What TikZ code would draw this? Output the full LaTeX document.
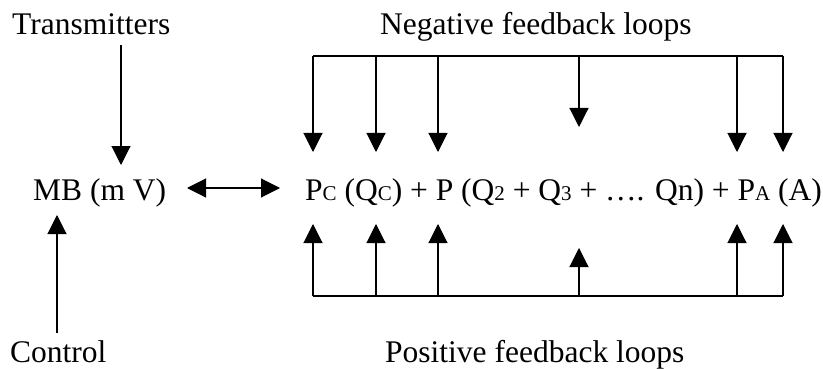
\documentclass[tikz,border=0pt]{standalone}
\usepackage{fontspec}
\setmainfont{Liberation Serif}
\usetikzlibrary{arrows.meta}
\newcommand{\lowcap}[1]{{\fontsize{21}{24}\selectfont #1}}

\begin{document}
\begin{tikzpicture}[x=1pt, y=-1pt, >={Triangle[width=19pt,length=19pt]},
    label/.style={anchor=base west, inner sep=0pt, font=\fontsize{31.5}{36}\selectfont},
    arrow/.style={->, line width=1.1pt},
    biarrow/.style={<->, line width=1.1pt},
    bar/.style={line width=1.1pt}]

\useasboundingbox (0,0) rectangle (823,369);

\node [label] (trans) at (12,35) {Transmitters};
\node [label] (mb) at (33,200) {MB (m V)};
\node [label] (ctrl) at (10,362) {Control};
\node [label] (neg) at (380,35) {Negative feedback loops};
\node [label] (pos) at (385,362) {Positive feedback loops};
\node [label] (eq) at (305,200) {P\lowcap{C} (Q\lowcap{C}) + P (Q\lowcap{2} + Q\lowcap{3} + …. Qn) + P\lowcap{A} (A)};

\coordinate (trans-out) at (121,45);
\coordinate (mb-top) at (121,165);
\coordinate (ctrl-out) at (57,333);
\coordinate (mb-bot) at (57,215);
\coordinate (mb-link) at (187,188);
\coordinate (eq-link) at (280,188);

\draw [arrow] (trans-out) -- (mb-top);
\draw [arrow] (ctrl-out) -- (mb-bot);
\draw [biarrow] (mb-link) -- (eq-link);

\foreach \x/\ty/\by [count=\i] in {313/152/224, 376/152/224, 438/152/224, 579/127/248, 737/152/224, 783/152/224} {
  \coordinate (neg-\i) at (\x,56);
  \coordinate (eq-top-\i) at (\x,\ty);
  \coordinate (pos-\i) at (\x,296);
  \coordinate (eq-bot-\i) at (\x,\by);
  \draw [arrow] (neg-\i) -- (eq-top-\i);
  \draw [arrow] (pos-\i) -- (eq-bot-\i);
}
\draw [bar] (neg-1) -- (neg-6);
\draw [bar] (pos-1) -- (pos-6);

\end{tikzpicture}
\end{document}
